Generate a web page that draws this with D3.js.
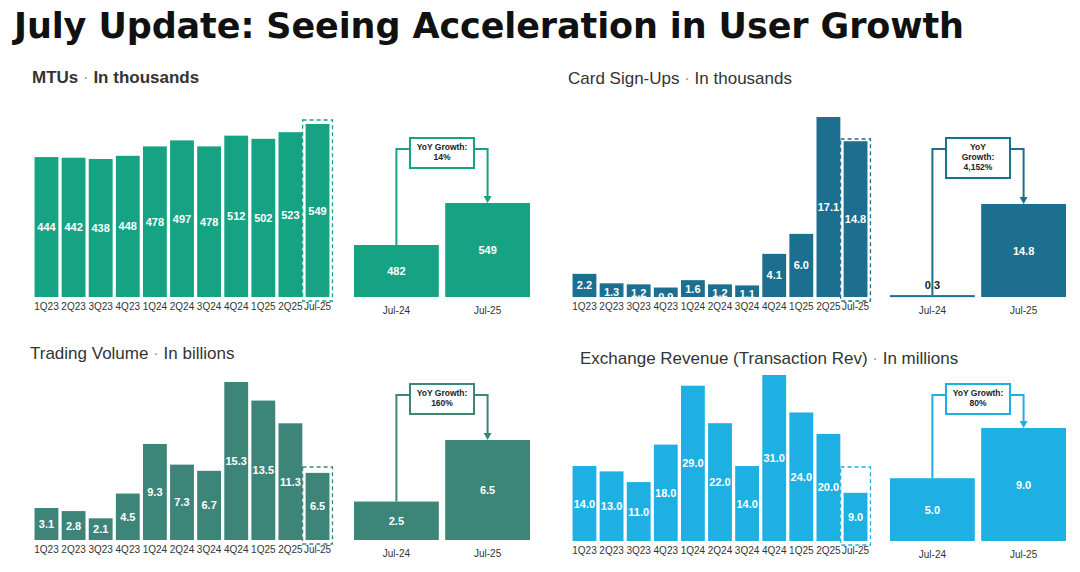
<!DOCTYPE html>
<html><head><meta charset="utf-8">
<script src="https://cdn.jsdelivr.net/npm/d3@7"></script>
<style>
body{margin:0;background:#fff;font-family:"Liberation Sans",Arial,sans-serif;}
</style></head><body>
<svg id="chart" width="1080" height="572"></svg>
<script>
const quarters = ["1Q23","2Q23","3Q23","4Q23","1Q24","2Q24","3Q24","4Q24","1Q25","2Q25","Jul-25"];
const yoyLabels = ["Jul-24","Jul-25"];

const mtuValues = [444,442,438,448,478,497,478,512,502,523,549];
const mtuYoy = [482,549];
const cardValues = [2.2,1.3,1.2,0.9,1.6,1.2,1.1,4.1,6.0,17.1,14.8];
const cardYoy = [0.3,14.8];
const tradeValues = [3.1,2.8,2.1,4.5,9.3,7.3,6.7,15.3,13.5,11.3,6.5];
const tradeYoy = [2.5,6.5];
const revValues = [14.0,13.0,11.0,18.0,29.0,22.0,14.0,31.0,24.0,20.0,9.0];
const revYoy = [5.0,9.0];

const svg = d3.select("#chart");

svg.append("text").attr("x", 14).attr("y", 38)
  .attr("font-size", 35).attr("font-weight", "bold").attr("fill", "#111")
  .attr("font-family", "DejaVu Sans")
  .attr("textLength", 950)
  .text("July Update: Seeing Acceleration in User Growth");

function panel(o) {
  const g = svg.append("g");
  // title
  const t = g.append("text").attr("x", o.tx).attr("y", o.ty).attr("font-size", 17).attr("fill", "#333");
  t.append("tspan").text(o.title).attr("font-weight", o.bold ? "bold" : "normal");
  t.append("tspan").text("   ·   ").attr("fill", "#999");
  t.append("tspan").text(o.unit).attr("font-weight", o.bold ? "bold" : "normal");

  // main chart
  const x = d3.scaleBand().domain(quarters).range([o.x0, o.x1]).paddingInner(0.12).paddingOuter(0.02);
  const y = d3.scaleLinear().domain([0, o.max]).range([o.base, o.top]);
  g.selectAll(".bar").data(o.values).enter().append("rect")
    .attr("x", (d, i) => x(quarters[i])).attr("width", x.bandwidth())
    .attr("y", d => y(d)).attr("height", d => o.base - y(d)).attr("fill", o.color);
  g.selectAll(".val").data(o.values).enter().append("text")
    .attr("x", (d, i) => x(quarters[i]) + x.bandwidth() / 2)
    .attr("y", d => o.labelAbove && d < o.labelAbove ? y(d) + 13 : (y(d) + o.base) / 2 + 4)
    .attr("text-anchor", "middle").attr("font-size", 11).attr("font-weight", "bold")
    .attr("fill", "#fff").text(d => o.fmt(d));
  const last = quarters[quarters.length - 1];
  g.append("rect").attr("x", x(last) - 3).attr("width", x.bandwidth() + 6)
    .attr("y", o.dashTop).attr("height", o.base - o.dashTop + 4)
    .attr("fill", "none").attr("stroke", o.color).attr("stroke-width", 1.3).attr("stroke-dasharray", "4,3");
  g.append("g").attr("transform", `translate(0,${o.base})`)
    .call(d3.axisBottom(x).tickSize(0).tickPadding(6))
    .call(a => a.select(".domain").remove())
    .selectAll("text").attr("font-size", 10).attr("fill", "#333").attr("font-family", "Liberation Sans");

  // yoy chart
  const xs = d3.scaleBand().domain(yoyLabels).range([o.s0, o.s1]).paddingInner(0.07);
  const ys = d3.scaleLinear().domain([o.smin, o.smax]).range([o.base, o.stop]);
  g.selectAll(".sbar").data(o.yoy).enter().append("rect")
    .attr("x", (d, i) => xs(yoyLabels[i])).attr("width", xs.bandwidth())
    .attr("y", d => ys(d)).attr("height", d => Math.max(2, o.base - ys(d))).attr("fill", o.color);
  g.selectAll(".sval").data(o.yoy).enter().append("text")
    .attr("x", (d, i) => xs(yoyLabels[i]) + xs.bandwidth() / 2)
    .attr("y", d => o.base - ys(d) < 20 ? ys(d) - 6 : (ys(d) + o.base) / 2 + 4)
    .attr("text-anchor", "middle").attr("font-size", 11).attr("font-weight", "bold")
    .attr("fill", d => o.base - ys(d) < 20 ? "#222" : "#fff").text(d => o.fmt(d));
  g.append("g").attr("transform", `translate(0,${o.base})`)
    .call(d3.axisBottom(xs).tickSize(0).tickPadding(10))
    .call(a => a.select(".domain").remove())
    .selectAll("text").attr("font-size", 10).attr("fill", "#333").attr("font-family", "Liberation Sans");

  // yoy annotation
  const c1 = xs(yoyLabels[0]) + xs.bandwidth() / 2, c2 = xs(yoyLabels[1]) + xs.bandwidth() / 2;
  const bw = 64, bh = o.bh || 30, bx = (o.s0 + o.s1) / 2 - bw / 2, by = o.boxY;
  const ly = by + 11;
  g.append("path").attr("fill", "none").attr("stroke", o.color).attr("stroke-width", 2)
    .attr("d", `M${c1},${ys(o.yoy[0])}V${ly}H${bx}M${bx + bw},${ly}H${c2}V${ys(o.yoy[1]) - 4}`);
  g.append("path").attr("fill", o.color)
    .attr("d", `M${c2 - 4},${ys(o.yoy[1]) - 7}L${c2 + 4},${ys(o.yoy[1]) - 7}L${c2},${ys(o.yoy[1])}Z`);
  g.append("rect").attr("x", bx).attr("y", by).attr("width", bw).attr("height", bh)
    .attr("fill", "#fff").attr("stroke", o.color).attr("stroke-width", 2);
  const bt = g.append("text").attr("text-anchor", "middle").attr("font-size", 8.5)
    .attr("font-weight", "bold").attr("fill", "#222");
  o.boxText.forEach((s, i) => bt.append("tspan").attr("x", bx + bw / 2).attr("y", by + 12 + i * 10).text(s));
}

panel({title: "MTUs", unit: "In thousands", bold: true, tx: 32, ty: 83, color: "#16a383",
  values: mtuValues, yoy: mtuYoy, max: 549, base: 297, top: 124, dashTop: 120,
  x0: 34, x1: 330, s0: 354, s1: 530, smin: 399, smax: 549, stop: 203, boxY: 138,
  boxText: ["YoY Growth:", "14%"], fmt: d => d});
panel({title: "Card Sign-Ups", unit: "In thousands", tx: 568, ty: 84, color: "#1c6f8e",
  values: cardValues, yoy: cardYoy, max: 17.1, base: 297, top: 117, dashTop: 139, labelAbove: 1.7,
  x0: 572, x1: 868, s0: 890, s1: 1066, smin: 0, smax: 14.8, stop: 204, boxY: 138, bh: 40,
  boxText: ["YoY", "Growth:", "4,152%"], fmt: d => d.toFixed(1)});
panel({title: "Trading Volume", unit: "In billions", tx: 30, ty: 359, color: "#3e8579",
  values: tradeValues, yoy: tradeYoy, max: 15.3, base: 540, top: 382, dashTop: 467,
  x0: 34, x1: 330, s0: 354, s1: 530, smin: 0, smax: 6.5, stop: 440, boxY: 384,
  boxText: ["YoY Growth:", "160%"], fmt: d => d.toFixed(1)});
panel({title: "Exchange Revenue (Transaction Rev)", unit: "In millions", tx: 580, ty: 364, color: "#1eb0e2",
  values: revValues, yoy: revYoy, max: 31, base: 541, top: 375, dashTop: 467,
  x0: 572, x1: 868, s0: 890, s1: 1066, smin: 0, smax: 9, stop: 428, boxY: 384,
  boxText: ["YoY Growth:", "80%"], fmt: d => d.toFixed(1)});
</script>
</body></html>
